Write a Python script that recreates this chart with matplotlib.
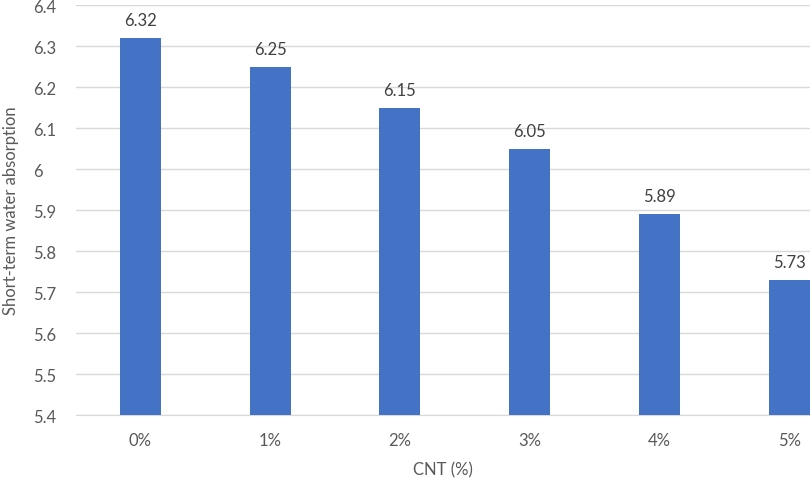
import numpy as np
import matplotlib.pyplot as plt

plt.rcParams.update({'font.size': 12, 'font.family': 'Lato'})

categories = ['0%', '1%', '2%', '3%', '4%', '5%']
absorption = [6.32, 6.25, 6.15, 6.05, 5.89, 5.73]
yticks = [5.4, 5.5, 5.6, 5.7, 5.8, 5.9, 6, 6.1, 6.2, 6.3, 6.4]
ytick_labels = ['5.4', '5.5', '5.6', '5.7', '5.8', '5.9', '6', '6.1', '6.2', '6.3', '6.4']

txt = '#595959'
fig = plt.figure(figsize=(8.1, 4.81), dpi=100)
ax = fig.add_axes([0.0938, 0.1351, 0.9062, 0.8524])

x = np.arange(len(categories))
ax.bar(x, absorption, width=0.316, color='#4472c4', zorder=3)
for xi, v in zip(x, absorption):
  ax.annotate('%.2f' % v, (xi, v), xytext=(0, 7), textcoords='offset points',
              ha='center', va='bottom', color='#404040', fontsize=12)

ax.set_ylim(5.4, 6.4)
ax.set_xlim(-0.497, 5.16)
ax.set_yticks(yticks)
ax.set_yticklabels(ytick_labels)
ax.set_xticks(x)
ax.set_xticklabels(categories)
ax.yaxis.grid(True, color='#d9d9d9', linewidth=1, zorder=0)
for s in ['top', 'right', 'left']:
  ax.spines[s].set_visible(False)
ax.spines['bottom'].set_color('#d9d9d9')
ax.tick_params(axis='both', length=0, colors=txt, labelsize=12)
ax.tick_params(axis='y', pad=31)
ax.tick_params(axis='x', pad=12)
for lab in ax.get_yticklabels():
  lab.set_horizontalalignment('left')
ax.set_xlabel('CNT (%)', color=txt, fontsize=12, labelpad=10)
ax.set_ylabel('Short-term water absorption', color=txt, fontsize=12, labelpad=10)

plt.savefig('out.png', dpi=100)
